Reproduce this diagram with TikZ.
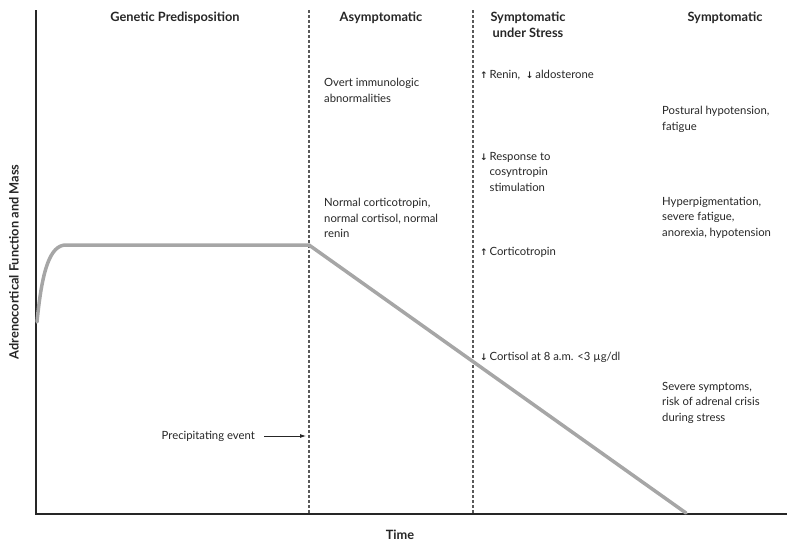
\documentclass[tikz,border=0pt]{standalone}
\usepackage{fontspec}
\setmainfont{Lato}
\newfontfamily\arrfont{DejaVu Sans}
\usetikzlibrary{arrows.meta}
\newcommand{\upar}{{\arrfont\fontsize{9}{9}\selectfont\bfseries ↑}}
\newcommand{\dnar}{{\arrfont\fontsize{9}{9}\selectfont\bfseries ↓}}
\begin{document}
\begin{tikzpicture}[x=1pt,y=-1pt,
  txt/.style={anchor=north west,align=left,inner sep=0pt,font=\fontsize{11.3}{15.5}\selectfont,text=black!85},
  hdr/.style={anchor=north,align=center,inner sep=0pt,font=\fontsize{12.8}{15.5}\selectfont\bfseries,text=black!85},
  divider/.style={draw=black!65,line width=1.1pt,dash pattern=on 3pt off 2pt},
  axis/.style={draw=black!85,line width=1.1pt},
  level/.style={draw=black!35,line width=3.5pt,line join=round,line cap=round}]
\useasboundingbox (0,0) rectangle (787,544);
% axes
\coordinate (o) at (36,514);
\coordinate (ytop) at (36,10);
\coordinate (xend) at (787,514);
\draw[axis] (ytop) -- (o) -- (xend);
% dividers
\coordinate (d1t) at (309,10); \coordinate (d1b) at (309,514);
\coordinate (d2t) at (473,10); \coordinate (d2b) at (473,514);
\draw[divider] (d1t) -- (d1b);
\draw[divider] (d2t) -- (d2b);
% curve
\coordinate (c0) at (37,322);
\coordinate (c1) at (66,245);
\coordinate (c2) at (309,245);
\coordinate (c3) at (686,513);
\draw[level] (c0) .. controls (42,270) and (50,245) .. (c1) -- (c2) -- (c3);
% headers
\node[hdr] (h1) at (175,12) {Genetic Predisposition};
\node[hdr] (h2) at (381,12) {Asymptomatic};
\node[hdr] (h3) at (528,12) {Symptomatic\\under Stress};
\node[hdr] (h4) at (725,12) {Symptomatic};
% asymptomatic texts
\node[txt] (a1) at (324,78) {Overt immunologic\\abnormalities};
\node[txt] (a2) at (324,198) {Normal corticotropin,\\normal cortisol, normal\\renin};
% symptomatic under stress
\node[txt] (s1) at (480,70) {\upar\,Renin,\ \ \dnar\,aldosterone};
\node[txt] (s2) at (480,152) {\dnar\,Response to\\\hphantom{\dnar\,}cosyntropin\\\hphantom{\dnar\,}stimulation};
\node[txt] (s3) at (480,247) {\upar\,Corticotropin};
\node[txt] (s4) at (480,352) {\dnar\,Cortisol at 8 a.m. <3 µg/dl};
% symptomatic
\node[txt] (p1) at (662,106) {Postural hypotension,\\fatigue};
\node[txt] (p2) at (662,197) {Hyperpigmentation,\\severe fatigue,\\anorexia, hypotension};
\node[txt] (p3) at (662,382) {Severe symptoms,\\risk of adrenal crisis\\during stress};
% precipitating event
\node[txt,anchor=east] (pe) at (255,436) {Precipitating event};
\coordinate (pet) at (306,436);
\draw[draw=black!85,line width=0.8pt,-{Latex[length=6pt,width=4pt]}] ([xshift=9pt]pe.east) -- (pet);
% axis labels
\node[hdr,anchor=center] (xl) at (400,535) {Time};
\node[hdr,anchor=center,rotate=90] (yl) at (14,262) {Adrenocortical Function and Mass};
\end{tikzpicture}
\end{document}
